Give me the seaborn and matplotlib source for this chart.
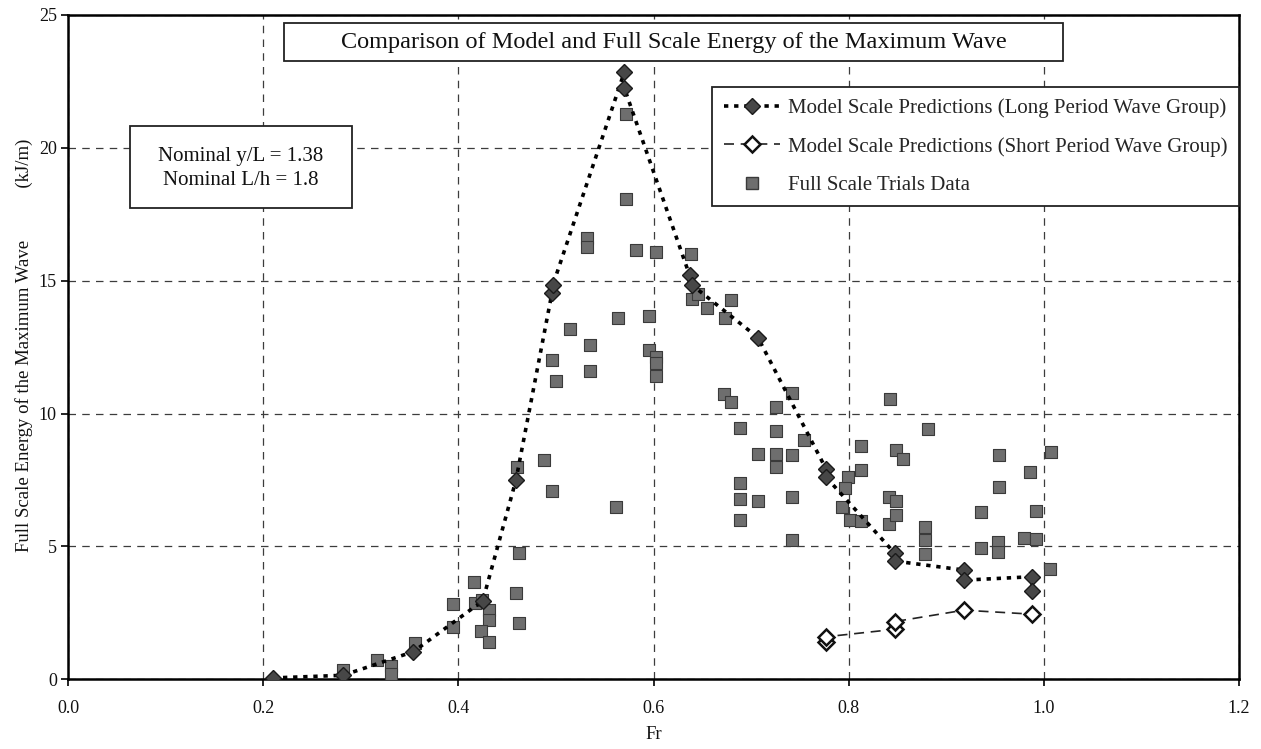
import matplotlib
matplotlib.use("Agg")
import matplotlib.pyplot as plt
import seaborn as sns
import pandas as pd
from matplotlib.lines import Line2D
from matplotlib.patches import Rectangle

# ---------------- data ----------------
fr_long = [0.210, 0.282, 0.354, 0.425, 0.459, 0.496, 0.497, 0.570, 0.570,
           0.637, 0.639, 0.707, 0.777, 0.777, 0.847, 0.847, 0.918, 0.918,
           0.988, 0.988]
e_long = [0.05, 0.15, 1.04, 2.95, 7.49, 14.55, 14.85, 22.84, 22.26,
          15.2, 14.85, 12.86, 7.9, 7.6, 4.75, 4.45, 4.11, 3.73,
          3.86, 3.33]

fr_short = [0.777, 0.777, 0.847, 0.847, 0.918, 0.988]
e_short = [1.40, 1.60, 1.88, 2.17, 2.60, 2.45]

fr_trials = [0.282, 0.317, 0.331, 0.331, 0.356, 0.395, 0.395, 0.416, 0.417,
             0.424, 0.431, 0.431, 0.423, 0.431, 0.460, 0.462, 0.459, 0.462,
             0.488, 0.496, 0.572, 0.572, 0.532, 0.532, 0.582, 0.603, 0.638,
             0.639, 0.646, 0.655, 0.679, 0.673, 0.564, 0.595, 0.514, 0.535,
             0.496, 0.535, 0.500, 0.595, 0.603, 0.603, 0.603, 0.672, 0.679,
             0.689, 0.707, 0.562, 0.689, 0.689, 0.707, 0.689, 0.742, 0.726,
             0.726, 0.754, 0.725, 0.742, 0.725, 0.742, 0.742, 0.842, 0.881,
             0.813, 0.848, 0.856, 0.813, 0.799, 0.796, 0.793, 0.801, 0.813,
             0.841, 0.848, 0.841, 0.848, 0.878, 0.878, 0.878, 0.954, 0.986,
             0.954, 0.936, 0.992, 1.007, 0.980, 0.992, 0.936, 0.953, 0.953,
             1.006]
e_trials = [0.35, 0.73, 0.50, 0.20, 1.36, 2.83, 1.98, 3.67, 2.86,
            2.98, 2.60, 2.23, 1.83, 1.39, 7.99, 4.75, 3.23, 2.13,
            8.24, 7.09, 21.28, 18.08, 16.60, 16.25, 16.14, 16.08, 16.01,
            14.30, 14.50, 13.98, 14.28, 13.60, 13.60, 13.67, 13.17, 12.57,
            12.00, 11.60, 11.21, 12.38, 12.13, 11.90, 11.40, 10.73, 10.44,
            9.44, 8.47, 6.49, 7.37, 6.80, 6.70, 5.99, 10.79, 10.25,
            9.33, 9.02, 8.46, 8.43, 7.99, 6.87, 5.24, 10.56, 9.41,
            8.77, 8.62, 8.28, 7.87, 7.62, 7.18, 6.50, 6.00, 5.95,
            6.86, 6.71, 5.86, 6.18, 5.74, 5.24, 4.71, 8.43, 7.80,
            7.24, 6.30, 6.33, 8.56, 5.30, 5.28, 4.95, 5.17, 4.80,
            4.14]

x_ticks = [0.0, 0.2, 0.4, 0.6, 0.8, 1.0, 1.2]
x_ticklabels = ["0.0", "0.2", "0.4", "0.6", "0.8", "1.0", "1.2"]
y_ticks = [0, 5, 10, 15, 20, 25]

title_text = "Comparison of Model and Full Scale Energy of the Maximum Wave"
note_text = "Nominal y/L = 1.38\nNominal L/h = 1.8"
label_long = "Model Scale Predictions (Long Period Wave Group)"
label_short = "Model Scale Predictions (Short Period Wave Group)"
label_trials = "Full Scale Trials Data"
x_label = "Fr"
y_label = "Full Scale Energy of the Maximum Wave" + " " * 11 + "(kJ/m)"

# ---------------- style ----------------
sns.set_theme(style="white")
plt.rcParams["font.family"] = ["Liberation Serif", "DejaVu Serif"]

fig = plt.figure(figsize=(12.61, 7.49), dpi=100)
ax = fig.add_axes([0.0539, 0.0931, 0.9287, 0.8869])

df_trials = pd.DataFrame({"Fr": fr_trials, "E": e_trials})
df_long = pd.DataFrame({"Fr": fr_long, "E": e_long})
df_short = pd.DataFrame({"Fr": fr_short, "E": e_short})

sns.scatterplot(data=df_trials, x="Fr", y="E", ax=ax, marker="s", s=66,
                color="#6e6e6e", edgecolor="#3a3a3a", linewidth=0.8,
                zorder=3, legend=False)

sns.lineplot(data=df_long, x="Fr", y="E", ax=ax, sort=False, estimator=None,
             color="black", linestyle=(0, (1.2, 1.6)), linewidth=2.6,
             marker="D", markersize=8.5, markerfacecolor="#474747",
             markeredgecolor="#1a1a1a", markeredgewidth=1.0, zorder=4)

sns.lineplot(data=df_short, x="Fr", y="E", ax=ax, sort=False, estimator=None,
             color="#222222", linestyle=(0, (6, 4)), linewidth=1.2,
             marker="D", markersize=8, markerfacecolor="white",
             markeredgecolor="#111111", markeredgewidth=1.8, zorder=4)

ax.set_xlim(0, 1.2)
ax.set_ylim(0, 25)
ax.set_xticks(x_ticks)
ax.set_xticklabels(x_ticklabels)
ax.set_yticks(y_ticks)

ax.grid(True, linestyle=(0, (6, 5)), color="#3c3c3c", linewidth=0.9)
ax.set_axisbelow(True)

for side in ["left", "bottom", "right", "top"]:
    ax.spines[side].set_visible(True)
    ax.spines[side].set_color("black")
    ax.spines[side].set_linewidth(1.8)

ax.tick_params(axis="both", which="major", direction="out", length=5,
               width=1.2, color="black", labelsize=13, labelcolor="#111111",
               bottom=True, left=True)
ax.tick_params(axis="x", pad=10)
ax.tick_params(axis="y", pad=3)

ax.set_xlabel(x_label, fontsize=13.5, color="#111111")
ax.set_ylabel(y_label, fontsize=13.5, color="#111111")
ax.xaxis.set_label_coords(0.5, -0.07)
ax.yaxis.set_label_coords(-0.030, 0.502)

# title box
ax.add_patch(Rectangle((0.1845, 0.9308), 0.8497 - 0.1845, 0.988 - 0.9308,
                       transform=ax.transAxes, facecolor="white",
                       edgecolor="#222222", linewidth=1.3, zorder=6))
ax.text(0.517, 0.959, title_text, transform=ax.transAxes, ha="center",
        va="center", fontsize=17.5, color="#111111", zorder=7)

# nominal box
ax.add_patch(Rectangle((0.0529, 0.7095), 0.2425 - 0.0529, 0.833 - 0.7095,
                       transform=ax.transAxes, facecolor="white",
                       edgecolor="#222222", linewidth=1.3, zorder=6))
ax.text(0.1477, 0.769, note_text, transform=ax.transAxes, ha="center",
        va="center", fontsize=15, color="#111111", linespacing=1.4,
        zorder=7)

handles = [
    Line2D([], [], color="black", linestyle=(0, (1.2, 1.6)), linewidth=2.6,
           marker="D", markersize=8.5, markerfacecolor="#474747",
           markeredgecolor="#1a1a1a"),
    Line2D([], [], color="#222222", linestyle=(0, (6, 4)), linewidth=1.2,
           marker="D", markersize=8, markerfacecolor="white",
           markeredgecolor="#111111", markeredgewidth=1.8),
    Line2D([], [], linestyle="none", marker="s", markersize=8,
           markerfacecolor="#6e6e6e", markeredgecolor="#3a3a3a"),
]
leg = ax.legend(handles, [label_long, label_short, label_trials],
                loc="upper right", bbox_to_anchor=(1.0, 0.8916),
                borderaxespad=0, frameon=True, fancybox=False,
                edgecolor="#222222", framealpha=1, fontsize=15,
                handlelength=2.7, labelspacing=0.9, borderpad=0.55,
                handletextpad=0.4)
leg.get_frame().set_linewidth(1.3)
leg.set_zorder(8)

fig.savefig("out.png", dpi=100)
